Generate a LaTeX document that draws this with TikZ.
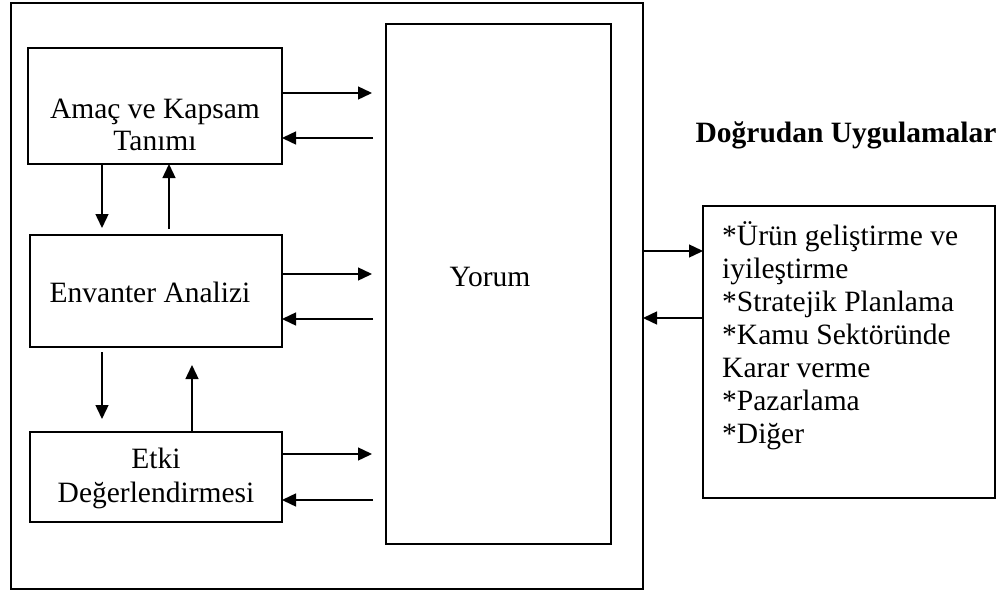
\documentclass[tikz,border=0pt]{standalone}
\usepackage{fontspec}
\setmainfont{Liberation Serif}
\usetikzlibrary{arrows.meta}
\begin{document}
\begin{tikzpicture}[x=1pt,y=-1pt,
  frame/.style={draw, line width=1.8pt, inner sep=0pt, outer sep=0pt},
  link/.style={line width=1.4pt, -{Triangle[length=14pt,width=13pt]}},
  toY/.style={link, shorten >=14pt},
  fromY/.style={link, shorten <=13pt},
  lbl/.style={font=\fontsize{29.5}{33}\selectfont, inner sep=0pt},
]
\useasboundingbox (0,0) rectangle (997,592);

% frames
\node[frame, minimum width=632pt, minimum height=586pt] (outer) at (327,296) {};
\node[frame, minimum width=254pt, minimum height=116pt] (amac) at (155,106) {};
\node[frame, minimum width=252pt, minimum height=112pt] (envanter) at (156,291) {};
\node[frame, minimum width=252pt, minimum height=90pt] (etki) at (156,477) {};
\node[frame, minimum width=225pt, minimum height=520pt] (yorum) at (498.5,284) {};
\node[frame, minimum width=292pt, minimum height=292pt] (uyg) at (849,352) {};

% texts
\node[lbl, anchor=base] (amacA) at (155,118) {Amaç ve Kapsam};
\node[lbl, anchor=base] (amacB) at (155,150) {Tanımı};
\node[lbl, anchor=base] (envT) at (150,302) {Envanter Analizi};
\node[lbl, anchor=base] (etkiA) at (156,468) {Etki};
\node[lbl, anchor=base] (etkiB) at (156,502) {Değerlendirmesi};
\node[lbl, anchor=base] (yorumT) at (490,286) {Yorum};
\node[lbl, anchor=base, font=\fontsize{29.5}{33}\selectfont\bfseries] (baslik) at (846,142) {Doğrudan Uygulamalar};
% the base anchor of a multi-line node sits on its last line
\node[lbl, anchor=base west, align=left] (liste) at (722,443)
  {*Ürün geliştirme ve\\iyileştirme\\*Stratejik Planlama\\*Kamu Sektöründe\\Karar verme\\*Pazarlama\\*Diğer};

% links to and from Yorum
\draw[toY] (amac.east |- 0,93) -- (yorum.west |- 0,93);
\draw[fromY] (yorum.west |- 0,138) -- (amac.east |- 0,138);
\draw[toY] (envanter.east |- 0,274) -- (yorum.west |- 0,274);
\draw[fromY] (yorum.west |- 0,319) -- (envanter.east |- 0,319);
\draw[toY] (etki.east |- 0,454) -- (yorum.west |- 0,454);
\draw[fromY] (yorum.west |- 0,500) -- (etki.east |- 0,500);

% links between the stages
\draw[link, shorten >=7pt] (amac.south -| 102,0) -- (envanter.north -| 102,0);
\draw[link, shorten <=6pt] (envanter.north -| 169,0) -- (amac.south -| 169,0);
\draw[link, shorten <=5pt, shorten >=13pt] (envanter.south -| 102,0) -- (etki.north -| 102,0);
\draw[link, shorten >=18pt] (etki.north -| 192,0) -- (envanter.south -| 192,0);

% links to the applications
\draw[link] (outer.east |- 0,251) -- (uyg.west |- 0,251);
\draw[link] (uyg.west |- 0,318) -- (outer.east |- 0,318);
\end{tikzpicture}
\end{document}
